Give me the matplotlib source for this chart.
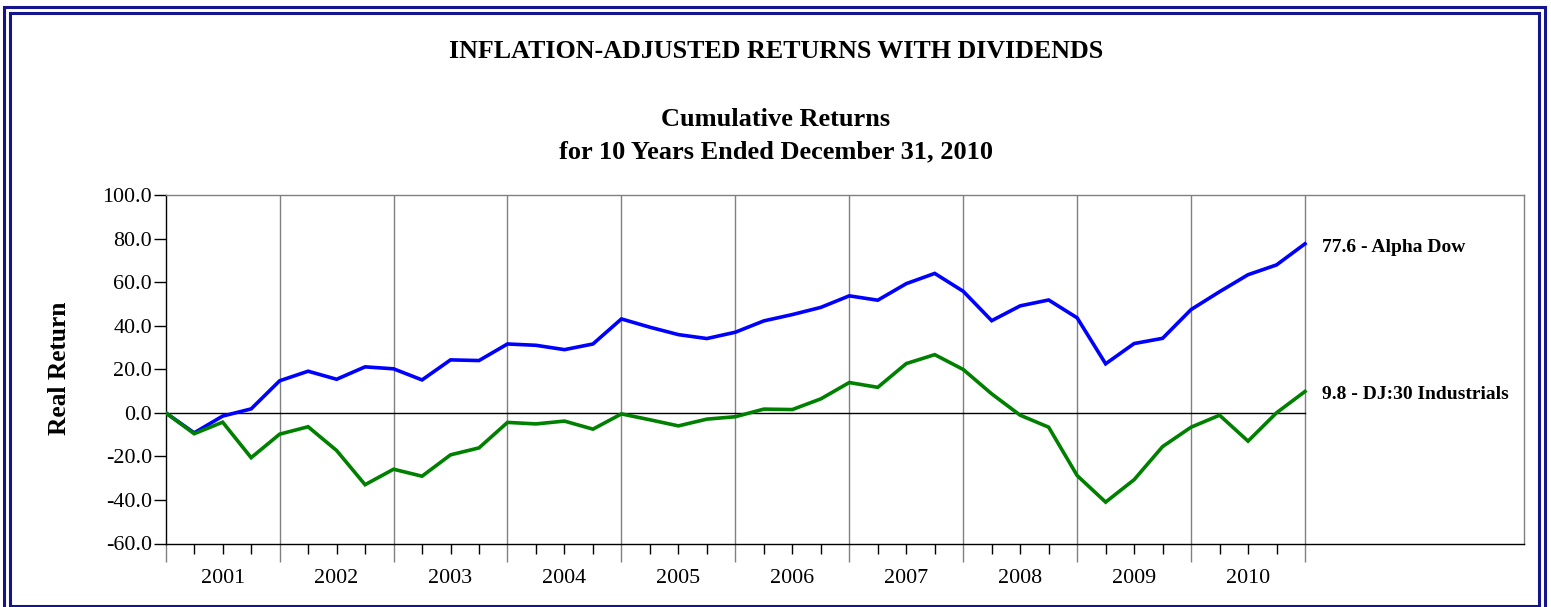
import matplotlib
matplotlib.use("Agg")
import matplotlib.pyplot as plt
from matplotlib.patches import Rectangle
import numpy as np

years = ["2001", "2002", "2003", "2004", "2005", "2006", "2007", "2008", "2009", "2010"]
alpha_dow = [0.0, -9.2, -1.5, 1.8, 14.7, 19.1, 15.4, 21.1, 20.2, 15.1, 24.3, 24.0, 31.6,
             31.0, 29.0, 31.6, 43.1, 39.3, 35.9, 34.1, 37.0, 42.2, 45.1, 48.4, 53.7,
             51.7, 59.3, 64.0, 55.8, 42.3, 49.1, 51.8, 43.6, 22.5, 31.8, 34.2, 47.4,
             55.6, 63.4, 67.9, 77.6]
dj30 = [0.0, -9.6, -4.3, -20.6, -9.8, -6.4, -17.3, -33.0, -25.9, -29.1, -19.3, -16.1, -4.4,
        -5.1, -3.8, -7.5, -0.5, -3.2, -6.0, -2.9, -1.8, 1.7, 1.5, 6.4, 13.9,
        11.7, 22.6, 26.7, 19.9, 8.7, -1.1, -6.6, -28.8, -41.0, -30.7, -15.5, -6.6,
        -1.1, -13.0, 0.0, 9.8]
series_labels = ["77.6 - Alpha Dow", "9.8 - DJ:30 Industrials"]
yticks = [100, 80, 60, 40, 20, 0, -20, -40, -60]

W, H = 1551, 607
fig = plt.figure(figsize=(W / 100, H / 100), dpi=100)
serif = ["Liberation Serif", "DejaVu Serif"]

# borders
navy = "#14148f"
fig.add_artist(Rectangle((4 / W, -0.05), (1545 - 4) / W, (H - 6.5) / H + 0.05,
                         transform=fig.transFigure, fill=False, ec=navy, lw=2.2))
fig.add_artist(Rectangle((10 / W, 1 - 606 / H), (1539 - 10) / W, (606 - 13) / H,
                         transform=fig.transFigure, fill=False, ec=navy, lw=2.2))

ax_l, ax_r, ax_t, ax_b = 165.7, 1524, 195, 543.5
ax = fig.add_axes([ax_l / W, 1 - ax_b / H, (ax_r - ax_l) / W, (ax_b - ax_t) / H])

n = len(alpha_dow)
x = np.arange(n)
qpx = (1305 - ax_l) / 40.0
xmax = (ax_r - ax_l) / qpx
ax.set_xlim(0, xmax)
ax.set_ylim(-60, 100)

# year gridlines
for q in range(4, n, 4):
    ax.axvline(q, color="#808080", lw=1.0, zorder=1)
ax.plot([0, n - 1], [0, 0], color="black", lw=1.0, zorder=2)

ax.plot(x, alpha_dow, color="#0000ff", lw=2.6, zorder=3, solid_joinstyle="miter")
ax.plot(x, dj30, color="#008000", lw=2.6, zorder=3, solid_joinstyle="miter")

# spines
for s in ["top", "right"]:
    ax.spines[s].set_color("#808080")
for s in ["left", "bottom"]:
    ax.spines[s].set_color("black")
for s in ax.spines.values():
    s.set_linewidth(1.0)

ax.set_yticks(yticks)
ax.set_yticklabels([f"{v:.1f}" for v in yticks], fontfamily=serif, fontsize=15.8)
ax.tick_params(axis="y", direction="out", length=9, width=1, color="black", pad=1)

# quarter ticks
ax.set_xticks(x, minor=True)
ax.set_xticks(np.arange(0, n, 4))
ax.set_xticklabels([])
ax.tick_params(axis="x", which="minor", direction="out", length=7, width=1, color="black")
ax.tick_params(axis="x", which="major", direction="out", length=13, width=1, color="#808080")

for i, yl in enumerate(years):
    ax.text(4 * i + 2, -0.1, yl, transform=ax.get_xaxis_transform(), ha="center", va="center",
            fontfamily=serif, fontsize=15.8)

# end labels
ax.annotate(series_labels[0], (40, alpha_dow[-1]), xytext=(12, -2.5), textcoords="offset points",
            ha="left", va="center", fontfamily=serif, fontsize=14, fontweight="bold")
ax.annotate(series_labels[1], (40, dj30[-1]), xytext=(12, -2.5), textcoords="offset points",
            ha="left", va="center", fontfamily=serif, fontsize=14, fontweight="bold")

fig.text(60 / W, 1 - 368 / H, "Real Return", rotation=90, ha="center", va="center",
         fontfamily=serif, fontsize=18.3, fontweight="bold")

fig.text(776 / W, 1 - 51.5 / H, "INFLATION-ADJUSTED RETURNS WITH DIVIDENDS", ha="center", va="center",
         fontfamily=serif, fontsize=18.7, fontweight="bold")
fig.text(776 / W, 1 - 119 / H, "Cumulative Returns", ha="center", va="center",
         fontfamily=serif, fontsize=19, fontweight="bold")
fig.text(776 / W, 1 - 152 / H, "for 10 Years Ended December 31, 2010", ha="center", va="center",
         fontfamily=serif, fontsize=19, fontweight="bold")

fig.savefig("out.png", dpi=100)
